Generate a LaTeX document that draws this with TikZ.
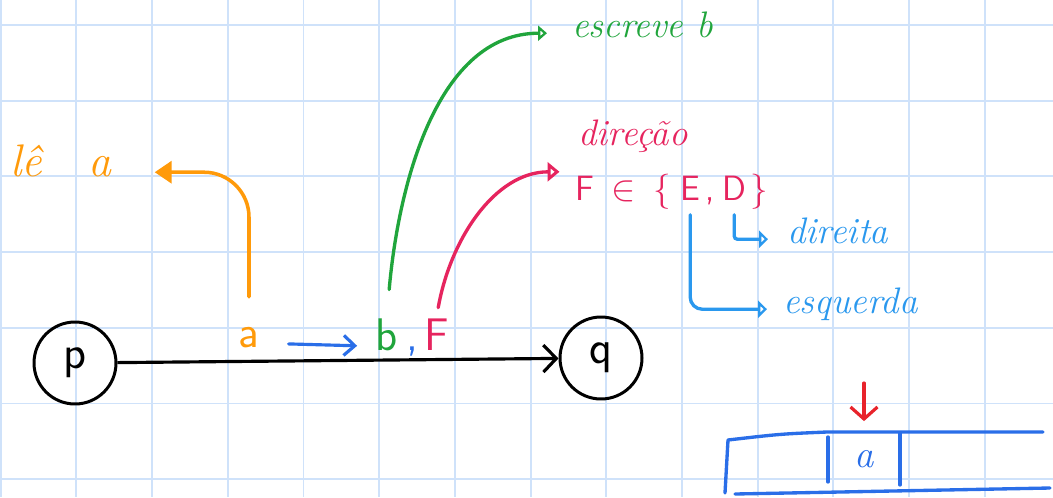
\documentclass[tikz,border=0pt]{standalone}
\usepackage{amsmath,amssymb}
\usetikzlibrary{arrows.meta,positioning,calc}
\definecolor{gridblue}{HTML}{CFE2FA}
\definecolor{orange}{HTML}{FF9A0A}
\definecolor{green}{HTML}{20A53C}
\definecolor{crimson}{HTML}{E6245E}
\definecolor{sky}{HTML}{2A98EE}
\definecolor{blue}{HTML}{2A6EE8}
\definecolor{red}{HTML}{E8232B}
\tikzset{
  gridline/.style={draw=gridblue,line width=1.1pt},
  statenode/.style={circle,draw=black,line width=1.7pt,minimum size=1.64cm,inner sep=0pt,font=\sffamily\fontsize{27}{29}\selectfont},
  letter/.style={inner sep=2pt,font=\sffamily\fontsize{26}{28}\selectfont,anchor=base},
  setsym/.style={inner sep=2pt,font=\sffamily\fontsize{20}{22}\selectfont,text=crimson,anchor=base west},
  note/.style={inner sep=2pt,font=\itshape\fontsize{21}{23}\selectfont,anchor=base west},
  arr/.style={-{Straight Barb[length=2.6mm,width=5.4mm]},draw=black,line width=1.8pt},
  arrblue/.style={-{Straight Barb[length=2.2mm,width=4mm]},draw=blue,line width=1.8pt,line cap=round},
  arrorange/.style={-{Triangle[length=3.4mm,width=4.4mm]},draw=orange,line width=2pt,line cap=round},
  arrgreen/.style={-{Triangle[open,length=1.8mm,width=3mm]},draw=green,line width=1.9pt,line cap=round},
  arrred/.style={-{Triangle[open,length=2.4mm,width=3.8mm]},draw=crimson,line width=1.9pt,line cap=round},
  arrsky/.style={-{Triangle[open,length=1.8mm,width=3.4mm]},draw=sky,line width=1.9pt,line cap=round},
  arrtape/.style={-{Straight Barb[length=2.4mm,width=5.4mm]},draw=red,line width=1.8pt,line cap=round},
  tape/.style={draw=blue,line width=1.9pt,line cap=round,line join=round}
}
\begin{document}
\begin{tikzpicture}[x=0.02cm,y=-0.02cm]
\fill[white] (0,0) rectangle (1053,497);
\path[use as bounding box] (0,0) rectangle (1053,497);
% squared paper
\foreach \i in {0,...,13} \draw[gridline] (0.7+75.7*\i,0) -- (0.7+75.7*\i,497);
\foreach \j in {0,...,6} \draw[gridline] (0,25+75.7*\j) -- (1053,25+75.7*\j);

% states and transition
\node[statenode] (p) at (75,363) {p};
\node[statenode] (q) at (601,358) {q};
\draw[arr] (p) -- (q);

\node[letter,text=orange] (lblA) at (249,347) {a};
\node[letter,text=green] (lblB) at (387,350) {b};
\node[letter,text=blue] (lblC) at (412,350) {,};
\node[letter,text=crimson] (lblF) at (437,350) {F};
\draw[arrblue,shorten <=0.51cm,shorten >=0.3cm] (lblA.mid east) -- (lblB.mid west);

% notes
\node[note,text=orange,font=\itshape\fontsize{26}{28}\selectfont] (leA) at (6.5,176) {lê\quad a};
\node[note,text=green] (esc) at (568.5,37) {escreve b};
\node[note,text=crimson] (dir) at (574.5,145) {direção};
\node[setsym] (setF) at (571.5,200) {F};
\node[setsym] (setIn) at (607.5,200) {$\in$};
\node[setsym] (setL) at (649.5,200) {\{};
\node[setsym] (setE) at (676.5,200) {E};
\node[setsym] (setC) at (701.5,200) {,};
\node[setsym] (setD) at (718.5,200) {D};
\node[setsym] (setR) at (746.5,200) {\}};
\node[note,text=sky] (dirR) at (783.5,243) {direita};
\node[note,text=sky] (esq) at (779.5,313) {esquerda};

\draw[arrorange,rounded corners=0.9cm,shorten <=0.52cm,shorten >=0.8cm] (lblA.north) |- (leA.mid east);
\draw[arrgreen,shorten <=0.5cm,shorten >=0.43cm] (lblB.north) to[out=85,in=180] (esc.mid west);
\draw[arrred,shorten <=0.14cm,shorten >=0.24cm] (lblF.north) to[out=80,in=180] (setF.north west);
\draw[arrsky,rounded corners=0.06cm,shorten <=0.22cm,shorten >=0.31cm] (setD.south) |- (dirR.mid west);
\draw[arrsky,rounded corners=0.24cm,shorten <=0.22cm,shorten >=0.25cm] (setE.south) |- (esq.mid west);

% tape
\draw[tape] (1043,432) -- (827,432) .. controls (780,434) .. (728,440) -- (725,493);
\draw[tape] (735,494) -- (1050,488);
\draw[tape] (828,437) -- (828,482);
\draw[tape] (900,433) -- (900,485);
\node[letter,text=blue,font=\itshape\fontsize{22}{24}\selectfont] (tapeA) at (864,467) {a};
\coordinate (head) at (864,383);
\draw[arrtape,shorten >=0.5cm] (head) -- (tapeA.north);
\end{tikzpicture}
\end{document}
